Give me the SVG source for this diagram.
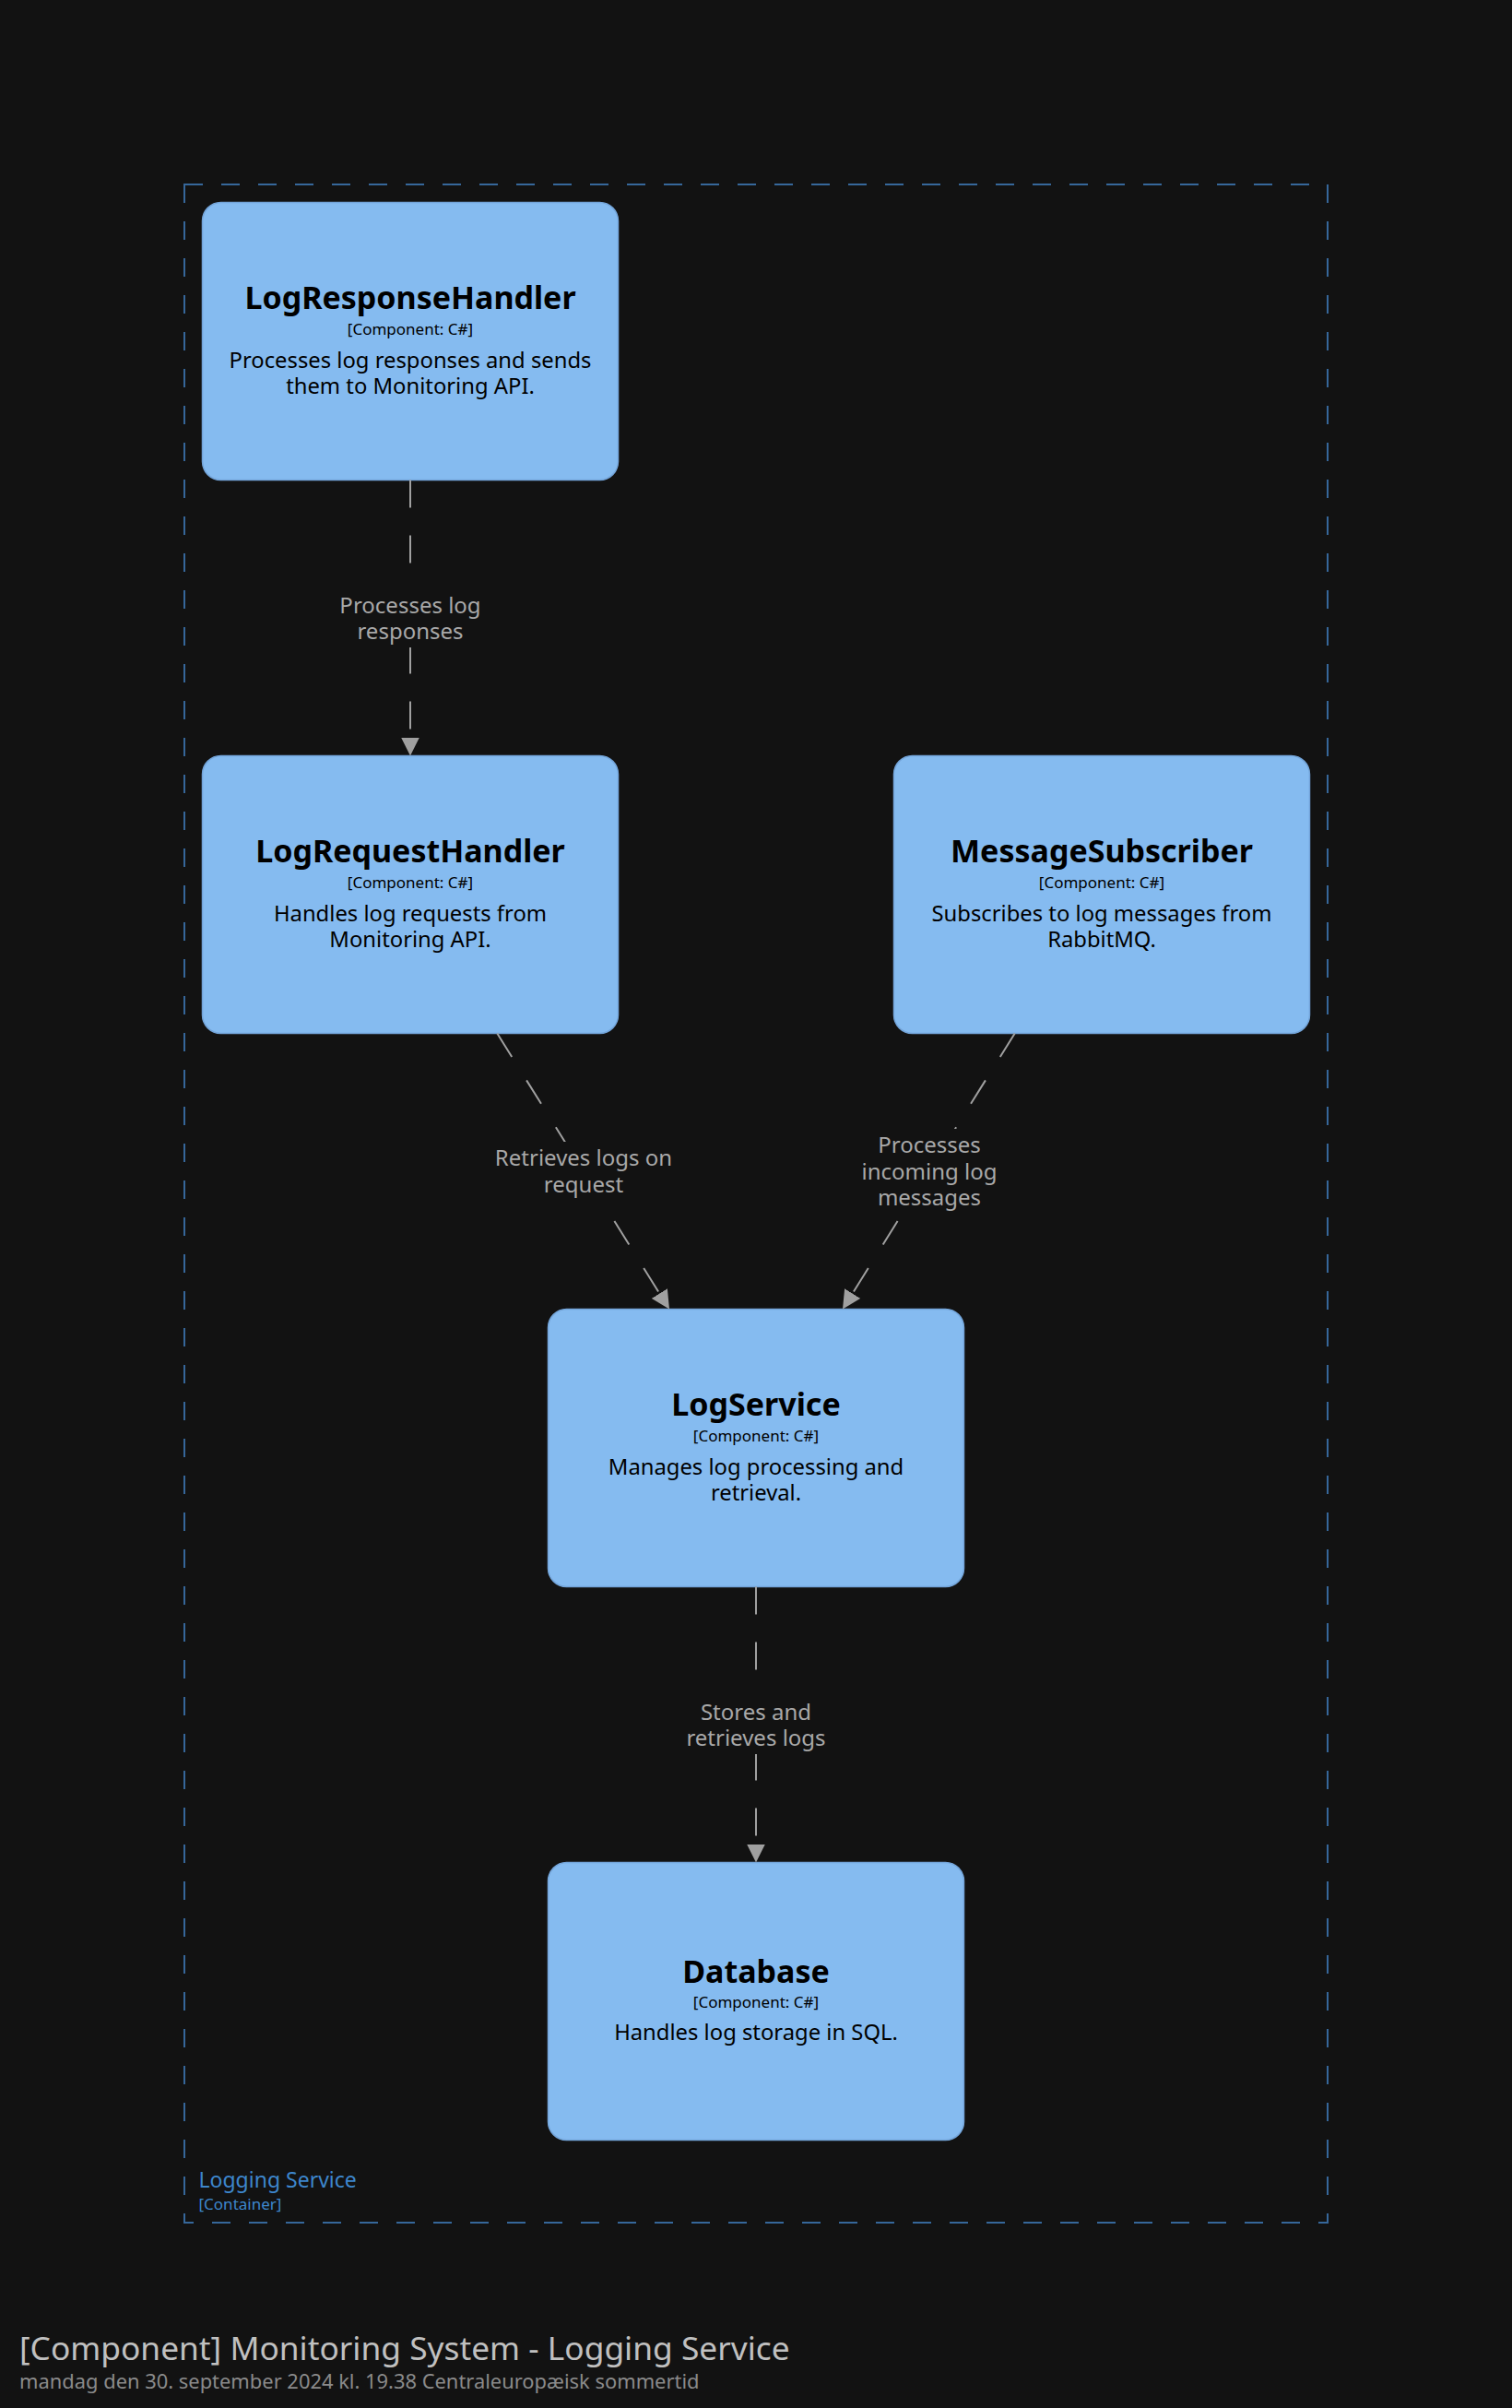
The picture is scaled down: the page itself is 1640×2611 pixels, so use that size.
<svg xmlns="http://www.w3.org/2000/svg" width="1640" height="2611" viewBox="0 0 1640 2611">
<defs>
<style>
.bg{fill:#121212}
.boundary{fill:none;stroke:#36679A;stroke-width:2;stroke-dasharray:20 20}
.node rect{fill:#85BBF0;stroke:#73A4D9;stroke-width:1.5}
.t{font-family:"Noto Sans","Open Sans","DejaVu Sans",sans-serif;text-anchor:middle;fill:#000}
.name{font-size:34px;font-weight:bold}
.stype{font-size:17px}
.desc{font-size:23.8px}
.edge{fill:none;stroke:#A0A0A0;stroke-width:2;stroke-dasharray:30 30}
.lblbg{fill:#121212}
.lbl{font-family:"Noto Sans","Open Sans","DejaVu Sans",sans-serif;font-size:24px;text-anchor:middle;fill:#A8A8A8}
.blbl{font-family:"Noto Sans","Open Sans","DejaVu Sans",sans-serif;fill:#3D86CC}
.title{font-family:"Noto Sans","Open Sans","DejaVu Sans",sans-serif;font-size:35.3px;fill:#C0C0C0}
.sub{font-family:"Noto Sans","Open Sans","DejaVu Sans",sans-serif;font-size:21.9px;fill:#8A8A8A}
</style>
<marker id="arr" markerUnits="userSpaceOnUse" viewBox="0 0 20 20" markerWidth="20" markerHeight="20" refX="20" refY="10" orient="auto">
<path d="M0,0 L20,10 L0,20 Z" fill="#A0A0A0"/>
</marker>
</defs>
<rect class="bg" x="0" y="0" width="1640" height="2611"/>

<g id="logging-service">
<rect class="boundary" x="200" y="200" width="1240" height="2210"/>
<text class="blbl" x="215.5" y="2372" font-size="23">Logging Service</text>
<text class="blbl" x="215.5" y="2396" font-size="17">[Container]</text>
</g>

<g id="LogResponseHandler" class="node">
<rect x="219.5" y="219.5" width="451" height="301" rx="20" ry="20"/>
<text class="t name" x="445" y="335">LogResponseHandler</text>
<text class="t stype" x="445" y="362.5">[Component: C#]</text>
<text class="t desc" x="445" y="398.5">Processes log responses and sends</text>
<text class="t desc" x="445" y="426.5">them to Monitoring API.</text>
</g>

<g id="LogRequestHandler" class="node">
<rect x="219.5" y="819.5" width="451" height="301" rx="20" ry="20"/>
<text class="t name" x="445" y="935">LogRequestHandler</text>
<text class="t stype" x="445" y="962.5">[Component: C#]</text>
<text class="t desc" x="445" y="998.5">Handles log requests from</text>
<text class="t desc" x="445" y="1026.5">Monitoring API.</text>
</g>

<g id="MessageSubscriber" class="node">
<rect x="969.5" y="819.5" width="451" height="301" rx="20" ry="20"/>
<text class="t name" x="1195" y="935">MessageSubscriber</text>
<text class="t stype" x="1195" y="962.5">[Component: C#]</text>
<text class="t desc" x="1195" y="998.5">Subscribes to log messages from</text>
<text class="t desc" x="1195" y="1026.5">RabbitMQ.</text>
</g>

<g id="LogService" class="node">
<rect x="594.5" y="1419.5" width="451" height="301" rx="20" ry="20"/>
<text class="t name" x="820" y="1535">LogService</text>
<text class="t stype" x="820" y="1562.5">[Component: C#]</text>
<text class="t desc" x="820" y="1598.5">Manages log processing and</text>
<text class="t desc" x="820" y="1626.5">retrieval.</text>
</g>

<g id="Database" class="node">
<rect x="594.5" y="2019.5" width="451" height="301" rx="20" ry="20"/>
<text class="t name" x="820" y="2150">Database</text>
<text class="t stype" x="820" y="2176.5">[Component: C#]</text>
<text class="t desc" x="820" y="2212">Handles log storage in SQL.</text>
</g>

<g id="connectors">
<path class="edge" d="M445,520.5 L445,819.5" marker-end="url(#arr)"/>
<rect class="lblbg" x="365" y="639" width="160" height="63"/>
<text class="lbl" x="445" y="665">Processes log</text>
<text class="lbl" x="445" y="693">responses</text>

<path class="edge" d="M539.3,1120.5 L726,1419.5" marker-end="url(#arr)"/>
<rect class="lblbg" x="534" y="1238" width="198" height="64"/>
<text class="lbl" x="633" y="1264">Retrieves logs on</text>
<text class="lbl" x="633" y="1293">request</text>

<path class="edge" d="M1100.7,1120.5 L914,1419.5" marker-end="url(#arr)"/>
<rect class="lblbg" x="930" y="1224" width="156" height="92"/>
<text class="lbl" x="1008" y="1250">Processes</text>
<text class="lbl" x="1008" y="1279">incoming log</text>
<text class="lbl" x="1008" y="1307">messages</text>

<path class="edge" d="M820,1720.5 L820,2019.5" marker-end="url(#arr)"/>
<rect class="lblbg" x="740" y="1839" width="160" height="63"/>
<text class="lbl" x="820" y="1865">Stores and</text>
<text class="lbl" x="820" y="1893">retrieves logs</text>
</g>

<g id="diagram-title">
<text class="title" x="21" y="2559">[Component] Monitoring System - Logging Service</text>
<text class="sub" x="21" y="2590">mandag den 30. september 2024 kl. 19.38 Centraleuropæisk sommertid</text>
</g>
</svg>
